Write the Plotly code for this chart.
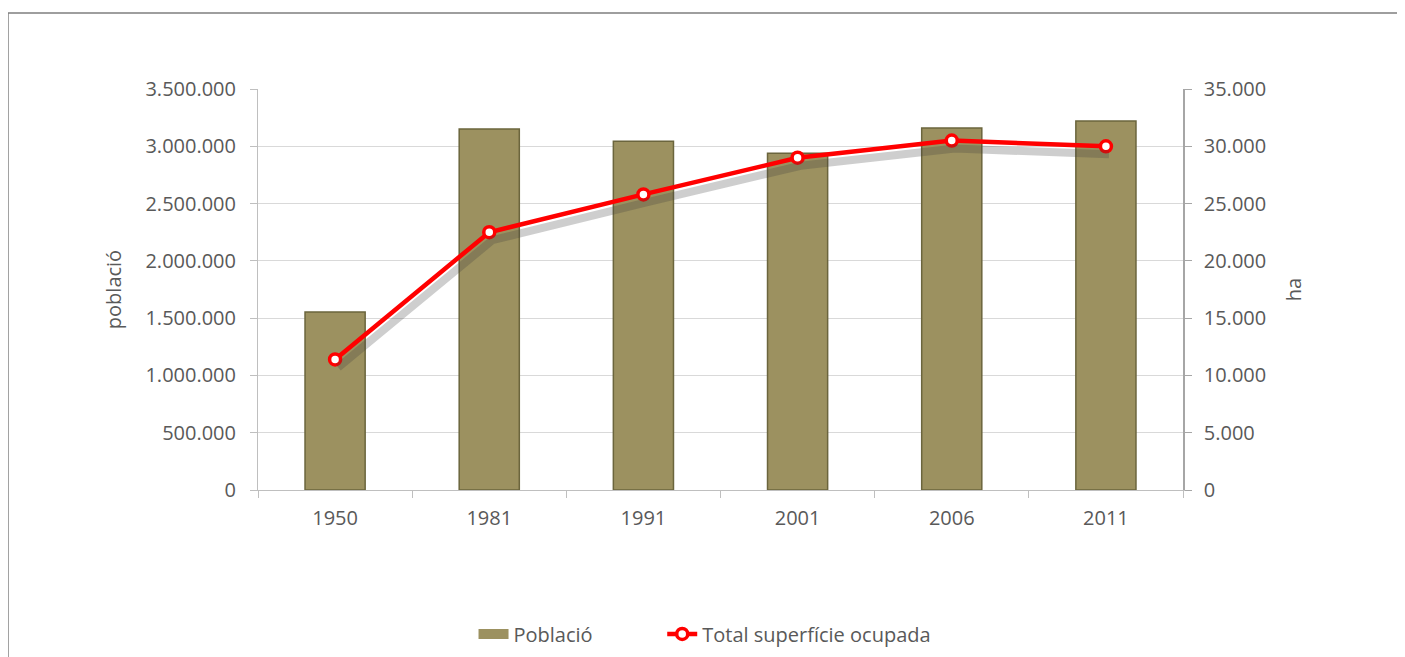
import plotly.graph_objects as go

# Data
anys = ["1950", "1981", "1991", "2001", "2006", "2011"]
poblacio = [1553000, 3150000, 3045000, 2940000, 3160000, 3220000]
superficie = [11400, 22500, 25800, 29000, 30500, 30000]

font_grey = "#595959"
olive = "#9C9160"

fig = go.Figure()
fig.add_trace(go.Bar(
    x=anys, y=poblacio, name="Població", showlegend=False,
    marker=dict(color=olive, line=dict(color="#6B653D", width=1.5)),
    yaxis="y",
))
# soft shadow under the line (same data, slightly shifted axes)
fig.add_trace(go.Scatter(
    x=anys, y=superficie, mode="lines", showlegend=False, hoverinfo="skip",
    line=dict(color="rgba(60,60,60,0.25)", width=8),
    xaxis="x2", yaxis="y3",
))
fig.add_trace(go.Scatter(
    x=anys, y=superficie, name="Total superfície ocupada",
    mode="lines+markers",
    line=dict(color="#FF0000", width=4.5),
    marker=dict(size=11, color="white", line=dict(color="#FF0000", width=3.5)),
    yaxis="y2", legend="legend2",
))
# legend entry for the bars (wide bar symbol)
fig.add_trace(go.Scatter(
    x=[None], y=[None], name="Població", mode="lines",
    line=dict(color=olive, width=12), legend="legend",
))

legend_style = dict(orientation="h", y=-0.359, yanchor="middle", xanchor="left",
                    font=dict(size=20, color=font_grey), bgcolor="rgba(0,0,0,0)")

fig.update_layout(
    width=1405, height=657,
    margin=dict(l=250, r=230, t=81, b=175),
    paper_bgcolor="white", plot_bgcolor="white",
    font=dict(family="Open Sans, Liberation Sans, sans-serif", size=20, color=font_grey),
    bargap=0.61,
    showlegend=True,
    legend=dict(x=0.233, **legend_style),
    legend2=dict(x=0.437, **legend_style),
    xaxis=dict(
        showline=True, linecolor="#BFBFBF", linewidth=1,
        ticks="outside", tickson="boundaries", ticklen=7, tickcolor="#BFBFBF",
        showgrid=False, tickfont=dict(size=20, color=font_grey), ticklabelstandoff=10,
    ),
    xaxis2=dict(overlaying="x", visible=False, range=[-0.52, 5.48]),
    yaxis=dict(
        title=dict(text="població", font=dict(size=20, color=font_grey), standoff=18),
        range=[0, 3500000], dtick=500000, tickformat=",.0f",
        showline=True, linecolor="#BFBFBF", linewidth=1,
        ticks="outside", ticklen=7, tickcolor="#BFBFBF",
        gridcolor="#D9D9D9", gridwidth=1, zeroline=False,
        tickfont=dict(size=20, color=font_grey), ticklabelstandoff=10,
    ),
    yaxis2=dict(
        title=dict(text="ha", font=dict(size=20, color=font_grey), standoff=22),
        range=[0, 35000], dtick=5000, tickformat=",.0f",
        overlaying="y", side="right",
        showline=True, linecolor="#A6A6A6", linewidth=1.5,
        ticks="outside", ticklen=7, tickcolor="#A6A6A6",
        showgrid=False, zeroline=False,
        tickfont=dict(size=20, color=font_grey), ticklabelstandoff=8,
    ),
    yaxis3=dict(overlaying="y", visible=False, range=[700, 35700]),
    separators=",.",
)

# outer frame of the chart area
fig.add_shape(type="rect", xref="paper", yref="paper",
              x0=-0.2703, x1=1.2346, y0=-0.45, y1=1.1895,
              line=dict(color="#7F7F7F", width=1.5), layer="below")

fig.write_html("out.html")
